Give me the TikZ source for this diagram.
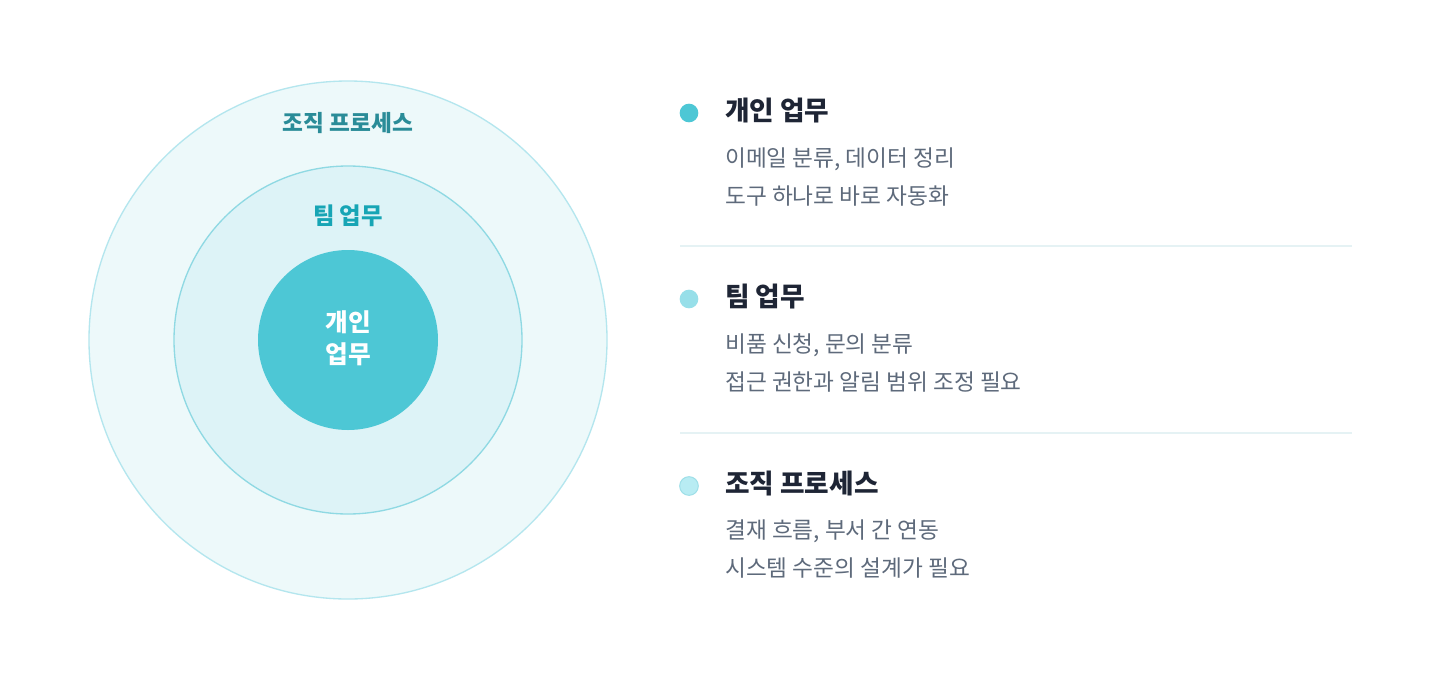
\documentclass[tikz,border=0pt]{standalone}
\usepackage{fontspec}
\newfontfamily\kr{Noto Sans CJK KR}
\setmainfont{Noto Sans CJK KR}
\definecolor{outerfill}{HTML}{EDF9FA}
\definecolor{outerline}{HTML}{B4E6EE}
\definecolor{midfill}{HTML}{DDF3F7}
\definecolor{midline}{HTML}{8FD9E3}
\definecolor{innerfill}{HTML}{4DC7D5}
\definecolor{orglabel}{HTML}{2A8C98}
\definecolor{teamlabel}{HTML}{17A5B5}
\definecolor{titlecol}{HTML}{1E2535}
\definecolor{subcol}{HTML}{5E6A7B}
\definecolor{sepcol}{HTML}{E5F2F4}
\definecolor{dotone}{HTML}{4DC7D5}
\definecolor{dottwo}{HTML}{97DFE9}
\definecolor{dotthree}{HTML}{B8ECF3}
\definecolor{dotthreeline}{HTML}{9EDFE8}
\begin{document}
\begin{tikzpicture}[x=0.75pt,y=-0.75pt,
  ringlabel/.style={font=\kr\bfseries\fontsize{17}{20}\selectfont, anchor=center},
  titletext/.style={font=\kr\bfseries\fontsize{20}{24}\selectfont, text=titlecol, anchor=west, inner sep=0pt},
  subtext/.style={font=\kr\fontsize{17}{28.5}\selectfont, text=subcol, anchor=north west, align=left, inner sep=0pt},
  sepline/.style={draw=sepcol, line width=1.5pt},
  bullet/.style={circle, minimum size=14pt, inner sep=0pt}]
\useasboundingbox (0,0) rectangle (1440,672);
\fill[white] (0,0) rectangle (1440,672);
% circles
\node[circle, minimum size=388.5pt, fill=outerfill, draw=outerline, line width=1pt, inner sep=0pt] (outer) at (348,340) {};
\node[circle, minimum size=261pt, fill=midfill, draw=midline, line width=1pt, inner sep=0pt] (mid) at (348,340) {};
\node[circle, minimum size=135pt, fill=innerfill, inner sep=0pt] (inner) at (348,340) {};
\node[ringlabel, text=orglabel] (orgl) at (348,123) {조직 프로세스};
\node[ringlabel, text=teamlabel, font=\kr\bfseries\fontsize{17.5}{20}\selectfont] (teaml) at (348,216) {팀 업무};
\node[ringlabel, text=white, align=center, font=\kr\bfseries\fontsize{18.5}{24}\selectfont] (indl) at (348,338) {개인\\업무};
% right list
\node[bullet, fill=dotone] (d1) at (689,113) {};
\node[bullet, fill=dottwo] (d2) at (689,299) {};
\node[bullet, fill=dotthree, draw=dotthreeline, line width=0.75pt] (d3) at (689,486) {};
\node[titletext] (t1) at (725,111) {개인 업무};
\node[titletext] (t2) at (725,297) {팀 업무};
\node[titletext] (t3) at (725,484) {조직 프로세스};
\node[subtext] (s1) at (725,147) {이메일 분류, 데이터 정리\\도구 하나로 바로 자동화};
\node[subtext] (s2) at (725,333) {비품 신청, 문의 분류\\접근 권한과 알림 범위 조정 필요};
\node[subtext] (s3) at (725,519) {결재 흐름, 부서 간 연동\\시스템 수준의 설계가 필요};
\coordinate (a1) at (680,246);
\coordinate (b1) at (1352,246);
\coordinate (a2) at (680,433);
\coordinate (b2) at (1352,433);
\draw[sepline] (a1) -- (b1);
\draw[sepline] (a2) -- (b2);
\end{tikzpicture}
\end{document}
